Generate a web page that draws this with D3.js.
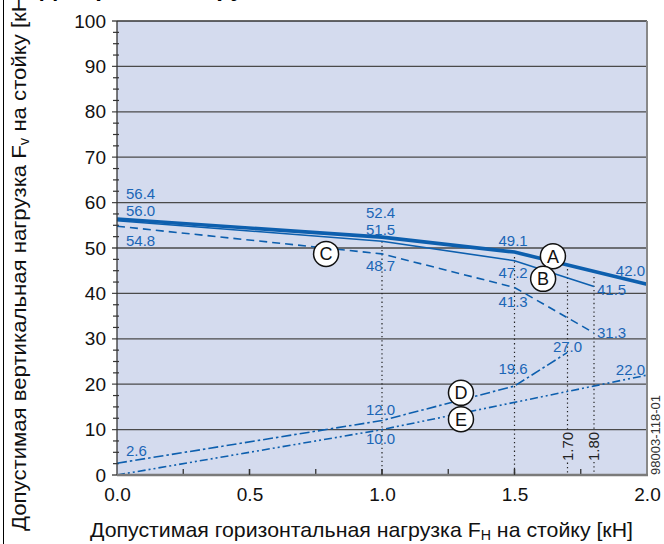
<!DOCTYPE html>
<html><head><meta charset="utf-8">
<script src="https://cdn.jsdelivr.net/npm/d3@7"></script>
<style>
html,body{margin:0;padding:0;background:#fff;}
svg{display:block;font-family:"Liberation Sans",Arial,sans-serif;}
</style></head>
<body><svg id="c" width="664" height="544"></svg>
<script>
// ---- data ----
const xTicks = [0, 0.5, 1.0, 1.5, 2.0];
const yTicks = [0, 10, 20, 30, 40, 50, 60, 70, 80, 90, 100];
const seriesA = [[0, 56.4], [1.0, 52.4], [1.5, 49.1], [2.0, 42.0]];
const seriesB = [[0, 56.0], [1.0, 51.5], [1.5, 47.2], [1.8, 41.5]];
const seriesC = [[0, 54.8], [1.0, 48.7], [1.5, 41.3], [1.8, 31.3]];
const seriesD = [[0, 2.6], [1.0, 12.0], [1.5, 19.6], [1.7, 27.0]];
const seriesE = [[0, 0], [1.0, 10.0], [2.0, 22.0]];
const markers = [["A", 1.645, 48.2], ["B", 1.608, 43.2], ["C", 0.789, 48.7], ["D", 1.298, 18.1], ["E", 1.298, 12.3]];
const dropLines = [[1.0, 52.4], [1.5, 48.0], [1.7, 46.3], [1.8, 43.6]];
const dropLabels = [1.70, 1.80];
// value labels: [x, y, text]
const valueLabels = [
  [0, 56.4, "56.4"], [0, 56.0, "56.0"], [0, 54.8, "54.8"],
  [1.0, 52.4, "52.4"], [1.0, 51.5, "51.5"], [1.0, 48.7, "48.7"],
  [1.5, 49.1, "49.1"], [1.5, 47.2, "47.2"], [1.5, 41.3, "41.3"],
  [2.0, 42.0, "42.0"], [1.8, 41.5, "41.5"], [1.8, 31.3, "31.3"],
  [1.7, 27.0, "27.0"], [1.5, 19.6, "19.6"], [2.0, 22.0, "22.0"],
  [1.0, 12.0, "12.0"], [1.0, 10.0, "10.0"], [0, 2.6, "2.6"]
];
// label offsets (layout only): dx, dy, anchor
const labelLayout = {
  "56.4": [9, -25, "start"], "56.0": [9, -10, "start"], "54.8": [9, 14, "start"],
  "52.4": [-16, -25, "start"], "51.5": [-16, -12, "start"], "48.7": [-16, 12, "start"],
  "49.1": [-16, -11, "start"], "47.2": [-16, 12, "start"], "41.3": [-16, 14, "start"],
  "42.0": [-2, -14, "end"], "41.5": [3, 3, "start"], "31.3": [3, 0, "start"],
  "27.0": [0, -6, "middle"], "19.6": [-16, -17, "start"], "22.0": [-2, -6, "end"],
  "12.0": [-16, -11, "start"], "10.0": [-16, 9, "start"], "2.6": [9, -13, "start"]
};

const svg = d3.select("#c");
const L = 117, R = 647, T = 21, B = 475;
const x = d3.scaleLinear().domain([0, 2]).range([L, R]);
const y = d3.scaleLinear().domain([0, 100]).range([B, T]);
const blue = "#0d5fae", lblBlue = "#1b66b6";

// frame line at far left
svg.append("line").attr("x1", 3.5).attr("x2", 3.5).attr("y1", 0).attr("y2", 544).attr("stroke", "#000").attr("stroke-width", 1);
// cut title (only descenders visible)
svg.append("text").attr("x", 40).attr("y", -4).attr("font-size", 24).attr("font-weight", "bold").attr("fill", "#000").text("Диаграмма нагрузок");

// plot background
svg.append("rect").attr("x", L).attr("y", T).attr("width", R - L).attr("height", B - T).attr("fill", "#d4dbee");

// gridlines
svg.append("g").selectAll("line").data(yTicks.filter(d => d > 0 && d < 100)).join("line")
  .attr("x1", L - 5).attr("x2", R).attr("y1", d => y(d)).attr("y2", d => y(d))
  .attr("stroke", "#4a4a4a").attr("stroke-width", 1.3);

// minor y ticks
const yMinor = d3.range(0, 100.01, 2.5).filter(d => d % 10 !== 0);
svg.append("g").selectAll("line").data(yMinor).join("line")
  .attr("x1", L - 4).attr("x2", L + 2).attr("y1", d => y(d)).attr("y2", d => y(d))
  .attr("stroke", "#333").attr("stroke-width", 1.2);
svg.append("g").selectAll("line").data([0, 100]).join("line")
  .attr("x1", L - 5).attr("x2", L).attr("y1", d => y(d)).attr("y2", d => y(d))
  .attr("stroke", "#333").attr("stroke-width", 1.3);

// y axis labels
const yAxis = d3.axisLeft(y).tickValues(yTicks).tickSize(0).tickPadding(11);
const ya = svg.append("g").attr("transform", `translate(${L},0)`).call(yAxis);
ya.select(".domain").remove();
ya.selectAll("text").attr("font-size", 19).attr("fill", "#111").attr("font-family", "Liberation Sans, Arial, sans-serif");

// x axis labels
const xAxis = d3.axisBottom(x).tickValues(xTicks).tickFormat(d3.format(".1f")).tickSize(0).tickPadding(13);
const xa = svg.append("g").attr("transform", `translate(0,${B})`).call(xAxis);
xa.select(".domain").remove();
xa.selectAll("text").attr("font-size", 19).attr("fill", "#111").attr("font-family", "Liberation Sans, Arial, sans-serif");

// x minor ticks (pointing up)
const xMinor = d3.range(0.25, 2, 0.25);
svg.append("g").selectAll("line").data(xMinor).join("line")
  .attr("x1", d => x(d)).attr("x2", d => x(d)).attr("y1", B - 6).attr("y2", B)
  .attr("stroke", "#333").attr("stroke-width", 1.3);

// drop lines (dotted)
svg.append("g").selectAll("line").data(dropLines).join("line")
  .attr("x1", d => x(d[0])).attr("x2", d => x(d[0])).attr("y1", d => y(d[1])).attr("y2", B)
  .attr("stroke", "#222").attr("stroke-width", 1.2).attr("stroke-dasharray", "1.3,3");

// drop labels (rotated)
const dl = svg.append("g").selectAll("g").data(dropLabels).join("g")
  .attr("transform", d => `translate(${x(d)},${y(6.3)}) rotate(-90)`);
dl.append("rect").attr("x", -15).attr("y", -7).attr("width", 30).attr("height", 14).attr("fill", "#d4dbee");
dl.append("text").attr("text-anchor", "middle").attr("dy", "0.35em").attr("font-size", 15).attr("fill", "#222")
  .text(d => d3.format(".2f")(d));

// series lines
const line = d3.line().x(d => x(d[0])).y(d => y(d[1]));
const seriesDefs = [
  [seriesE, 1.6, "8,3,2,3,2,3"],
  [seriesD, 1.6, "10,3,2.5,3"],
  [seriesC, 1.6, "8,5"],
  [seriesB, 1.6, null],
  [seriesA, 3.6, null]
];
seriesDefs.forEach(([data, w, dash]) => {
  svg.append("path").datum(data).attr("d", line).attr("fill", "none")
    .attr("stroke", blue).attr("stroke-width", w).attr("stroke-dasharray", dash);
});

// frame
svg.append("line").attr("x1", L).attr("x2", R).attr("y1", T).attr("y2", T).attr("stroke", "#333").attr("stroke-width", 1.5);
svg.append("line").attr("x1", L).attr("x2", L).attr("y1", T).attr("y2", B).attr("stroke", "#333").attr("stroke-width", 1.3);
svg.append("line").attr("x1", R).attr("x2", R).attr("y1", T).attr("y2", B + 1).attr("stroke", "#888").attr("stroke-width", 2);
svg.append("line").attr("x1", L).attr("x2", R + 1).attr("y1", B).attr("y2", B).attr("stroke", "#7a7a7a").attr("stroke-width", 2.5);
svg.append("g").selectAll("line").data([0.5, 1.0, 1.5]).join("line")
  .attr("x1", d => x(d)).attr("x2", d => x(d)).attr("y1", B - 6).attr("y2", B)
  .attr("stroke", "#333").attr("stroke-width", 1.3);

// value labels
svg.append("g").selectAll("text").data(valueLabels).join("text")
  .attr("x", d => x(d[0]) + labelLayout[d[2]][0])
  .attr("y", d => y(d[1]) + labelLayout[d[2]][1])
  .attr("text-anchor", d => labelLayout[d[2]][2])
  .attr("dy", "0.36em").attr("font-size", 15).attr("fill", lblBlue)
  .text(d => d[2]);

// markers
const mk = svg.append("g").selectAll("g").data(markers).join("g")
  .attr("transform", d => `translate(${x(d[1])},${y(d[2])})`);
mk.append("circle").attr("r", 12.5).attr("fill", "#fff").attr("stroke", "#111").attr("stroke-width", 1.5);
mk.append("text").attr("text-anchor", "middle").attr("dy", "0.36em").attr("font-size", 18).attr("fill", "#111").text(d => d[0]);

// axis titles
const xt = svg.append("text").attr("x", 90).attr("y", 537).attr("text-anchor", "start").attr("font-size", 21).attr("fill", "#111");
xt.append("tspan").text("Допустимая горизонтальная нагрузка F");
xt.append("tspan").attr("font-size", 14).attr("dy", 3).text("H");
xt.append("tspan").attr("dy", -3).text(" на стойку [кН]");
xt.attr("textLength", 543).attr("lengthAdjust", "spacingAndGlyphs");

const yt = svg.append("text").attr("transform", "translate(26,531) rotate(-90)").attr("text-anchor", "start").attr("font-size", 21).attr("fill", "#111");
yt.append("tspan").text("Допустимая вертикальная нагрузка F");
yt.append("tspan").attr("font-size", 14).attr("dy", 3).text("v");
yt.append("tspan").attr("dy", -3).text(" на стойку [кН]");
yt.attr("textLength", 541).attr("lengthAdjust", "spacingAndGlyphs");

// figure code on right
svg.append("text").attr("transform", `translate(660,${B}) rotate(-90)`).attr("font-size", 13).attr("fill", "#333").text("98003-118-01");
</script></body></html>
